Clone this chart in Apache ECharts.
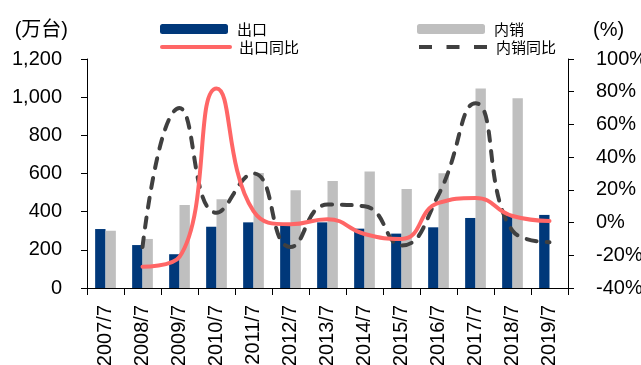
<!DOCTYPE html>
<html>
<head>
<meta charset="utf-8">
<style>
  html, body { margin: 0; padding: 0; background: #fff; }
  #chart { width: 641px; height: 365px; }
</style>
<script src="https://cdn.jsdelivr.net/npm/echarts@6/dist/echarts.min.js"></script>
</head>
<body>
<div id="chart"></div>
<script>
// Years (July of each year)
const categories = ['2007/7', '2008/7', '2009/7', '2010/7', '2011/7', '2012/7', '2013/7',
  '2014/7', '2015/7', '2016/7', '2017/7', '2018/7', '2019/7'];

// Volumes, 万台
const exportVol = [309, 225, 177, 321, 344, 332, 344, 311, 285, 318, 367, 381, 383];
const domesticVol = [300, 257, 435, 465, 603, 512, 561, 610, 519, 601, 1045, 994, null];

// Year-on-year growth, %
const exportYoY = [null, -27, -21, 82, 7, -1, 2, -7, -10, 12, 15, 4, 1];
const domesticYoY = [null, -15, 70, 6, 30, -15, 11, 10, -14, 17, 73, -5, -12];

// Axis ticks
const leftTicks = { min: 0, max: 1200, interval: 200 };
const rightTicks = { min: -40, max: 100, interval: 20 };

const FONT = '"Liberation Sans", Arial, "Noto Sans CJK SC", sans-serif';
const CJK = '"Noto Sans CJK SC", sans-serif';
const axisLineStyle = { color: '#000', width: 1 };

const RED = '#FF6666';
const DARK = '#404040';

// One legend per cell of the 2x2 key so each entry sits exactly where wanted
function legendCell(item, left, top) {
  return {
    data: [item],
    left: left, top: top,
    padding: 0,
    itemWidth: 68, itemHeight: 10,
    lineStyle: { width: 4 },
    textStyle: { fontFamily: CJK, fontSize: 15, lineHeight: 18, color: '#000', padding: [0, 0, 0, 4] }
  };
}

const chart = echarts.init(document.getElementById('chart'), null, { renderer: 'canvas' });

chart.setOption({
  animation: false,
  backgroundColor: '#fff',
  textStyle: { fontFamily: FONT, color: '#000' },
  grid: { left: 87, right: 73, top: 59, bottom: 77, containLabel: false, outerBoundsMode: 'none' },
  legend: [
    legendCell('出口', 160, 20),
    legendCell('内销', 417, 20),
    legendCell({ name: '出口同比', itemStyle: { opacity: 0 }, lineStyle: { width: 4, cap: 'round' } }, 160, 38),
    legendCell({ name: '内销同比', itemStyle: { opacity: 0 }, lineStyle: { width: 4, type: [13, 14.5], cap: 'butt' } }, 417, 38)
  ],
  xAxis: {
    type: 'category',
    data: categories,
    boundaryGap: true,
    axisLine: { lineStyle: axisLineStyle },
    axisTick: { show: true, length: 7, lineStyle: axisLineStyle },
    axisLabel: { rotate: 90, fontSize: 20, color: '#000', margin: 17, fontFamily: FONT, interval: 0 }
  },
  yAxis: [
    {
      type: 'value',
      min: leftTicks.min, max: leftTicks.max, interval: leftTicks.interval,
      name: '(万台)',
      nameLocation: 'end',
      nameGap: 19,
      nameTextStyle: { fontSize: 20, color: '#000', align: 'right', padding: [0, 19, 0, 0], fontFamily: FONT },
      axisLine: { show: true, lineStyle: axisLineStyle },
      axisTick: { show: true, length: 6, lineStyle: axisLineStyle },
      splitLine: { show: false },
      axisLabel: {
        fontSize: 20, color: '#000', margin: 25, fontFamily: FONT,
        formatter: v => v.toLocaleString('en-US')
      }
    },
    {
      type: 'value',
      position: 'right',
      min: rightTicks.min, max: rightTicks.max, interval: rightTicks.interval,
      name: '(%)',
      nameLocation: 'end',
      nameGap: 19,
      nameTextStyle: { fontSize: 20, color: '#000', align: 'left', padding: [0, 0, 0, 25], fontFamily: FONT },
      axisLine: { show: true, lineStyle: axisLineStyle },
      axisTick: { show: true, length: 6, lineStyle: axisLineStyle },
      splitLine: { show: false },
      axisLabel: { fontSize: 20, color: '#000', margin: 28, fontFamily: FONT, formatter: '{value}%' }
    }
  ],
  series: [
    {
      name: '出口', type: 'bar', data: exportVol, yAxisIndex: 0,
      barWidth: '28%', barGap: '0%',
      itemStyle: { color: '#00387A' }
    },
    {
      name: '内销', type: 'bar', data: domesticVol, yAxisIndex: 0,
      barWidth: '28%', barGap: '0%',
      itemStyle: { color: '#BFBFBF' }
    },
    {
      name: '内销同比', type: 'line', data: domesticYoY, yAxisIndex: 1,
      smooth: 0.5, symbol: 'none',
      lineStyle: { color: DARK, width: 4, type: [10, 10], cap: 'round' },
      itemStyle: { color: DARK }
    },
    {
      name: '出口同比', type: 'line', data: exportYoY, yAxisIndex: 1,
      smooth: 0.5, symbol: 'none',
      lineStyle: { color: RED, width: 4, cap: 'round' },
      itemStyle: { color: RED }
    }
  ]
});
</script>
</body>
</html>
